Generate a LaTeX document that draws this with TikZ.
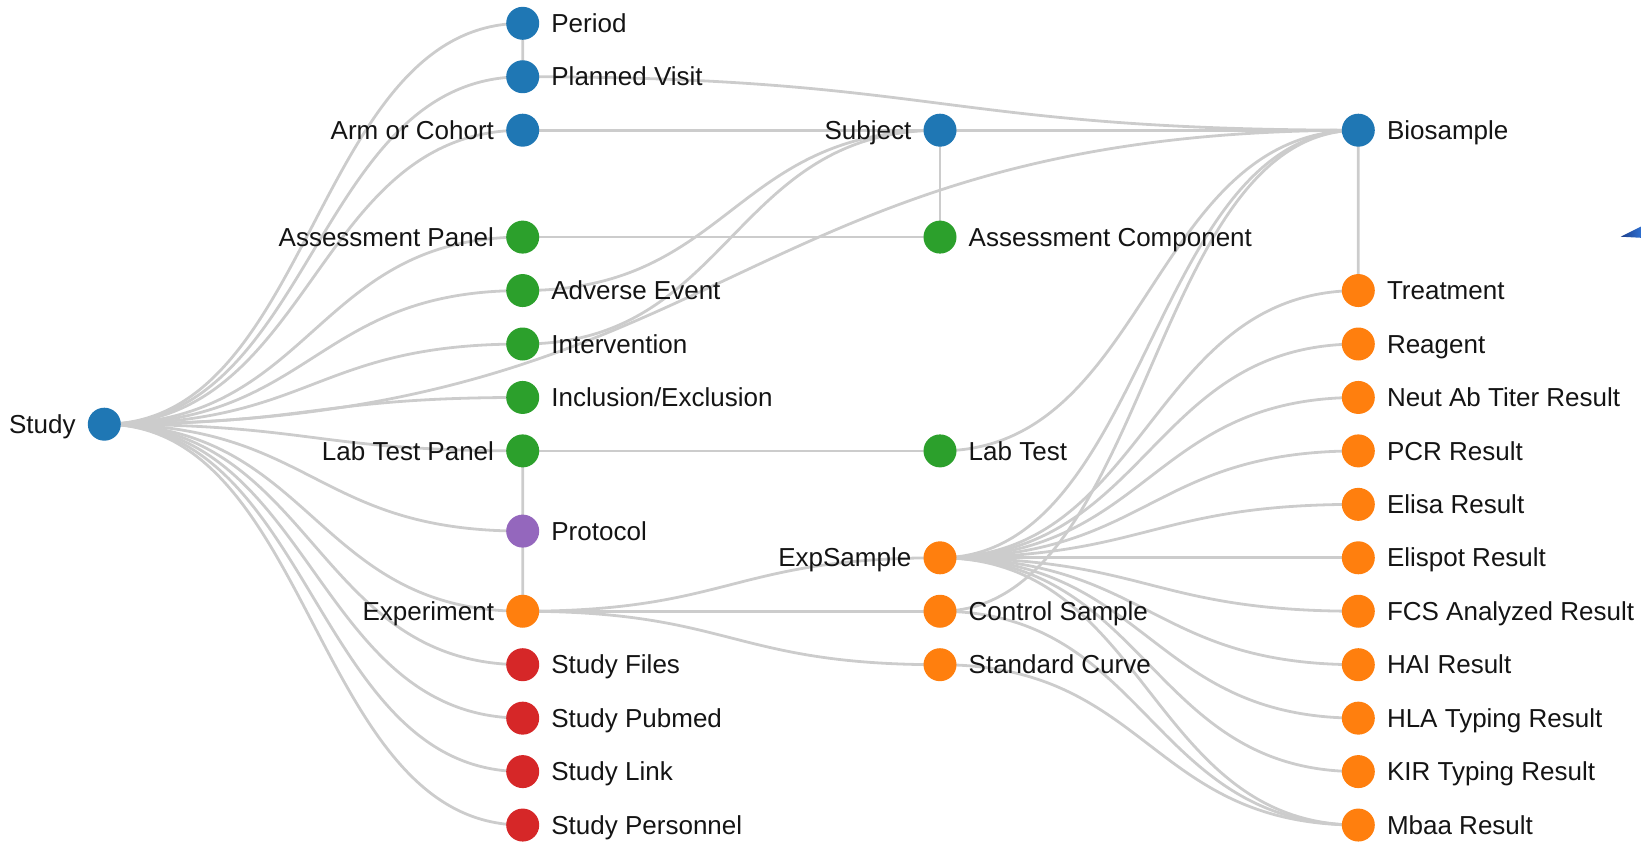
\documentclass[tikz,border=0pt]{standalone}
\usepackage{fontspec}
\setmainfont{Liberation Sans}
\usetikzlibrary{calc}
\pgfdeclarelayer{bg}
\pgfsetlayers{bg,main}
\definecolor{cblue}{HTML}{1F77B4}
\definecolor{corange}{HTML}{FF7F0E}
\definecolor{cgreen}{HTML}{2CA02C}
\definecolor{cred}{HTML}{D62728}
\definecolor{cpurple}{HTML}{9467BD}
\definecolor{edgegray}{HTML}{CCCCCC}
\definecolor{txtc}{HTML}{141414}
\definecolor{wedgeA}{HTML}{1C3F8C}
\definecolor{wedgeB}{HTML}{2E6FD0}
\tikzset{
  dot/.style={circle, inner sep=0pt, minimum size=33pt, draw=none},
  lblR/.style={anchor=base west, inner sep=0pt, text=txtc, font=\fontsize{26}{30}\selectfont},
  lblL/.style={anchor=base east, inner sep=0pt, text=txtc, font=\fontsize{26}{30}\selectfont},
  edge/.style={draw=edgegray, line width=2.8pt}
}
% node with label on the right / left
\newcommand\nodeR[5]{%
  \node[dot, fill=#4] (#1) at (#2,#3) {};
  \node[lblR] (#1T) at ($(#1)+(28.5,9.1)$) {#5};}
\newcommand\nodeL[5]{%
  \node[dot, fill=#4] (#1) at (#2,#3) {};
  \node[lblL] (#1T) at ($(#1)+(-28.5,9.1)$) {#5};}
% horizontal d3-style link between two named nodes
\newcommand\conn[2]{%
  \draw[edge] let \p1=(#1.center), \p2=(#2.center) in
    (#1.center) .. controls ({0.5*\x1+0.5*\x2},\y1) and ({0.5*\x1+0.5*\x2},\y2) .. (#2.center);}
\begin{document}
\begin{tikzpicture}[x=1pt, y=-1pt]
\useasboundingbox (0,0) rectangle (1641,842);
% column 1
\nodeL{study}{104.3}{424.2}{cblue}{Study}
% column 2
\nodeR{period}{522.7}{23.3}{cblue}{Period}
\nodeR{planned}{522.7}{76.75}{cblue}{Planned Visit}
\nodeL{arm}{522.7}{130.2}{cblue}{Arm or Cohort}
\nodeL{asspanel}{522.7}{237.1}{cgreen}{Assessment Panel}
\nodeR{adverse}{522.7}{290.55}{cgreen}{Adverse Event}
\nodeR{interv}{522.7}{344.0}{cgreen}{Intervention}
\nodeR{inclusion}{522.7}{397.45}{cgreen}{Inclusion/Exclusion}
\nodeL{labpanel}{522.7}{450.9}{cgreen}{Lab Test Panel}
\nodeR{protocol}{522.7}{531.1}{cpurple}{Protocol}
\nodeL{experiment}{522.7}{611.25}{corange}{Experiment}
\nodeR{files}{522.7}{664.7}{cred}{Study Files}
\nodeR{pubmed}{522.7}{718.15}{cred}{Study Pubmed}
\nodeR{slink}{522.7}{771.6}{cred}{Study Link}
\nodeR{personnel}{522.7}{825.05}{cred}{Study Personnel}
% column 3
\nodeL{subject}{940}{130.2}{cblue}{Subject}
\nodeR{asscomp}{940}{237.1}{cgreen}{Assessment Component}
\nodeR{labtest}{940}{450.9}{cgreen}{Lab Test}
\nodeL{expsample}{940}{557.8}{corange}{ExpSample}
\nodeR{control}{940}{611.25}{corange}{Control Sample}
\nodeR{standard}{940}{664.7}{corange}{Standard Curve}
% column 4
\nodeR{biosample}{1358.3}{130.2}{cblue}{Biosample}
\nodeR{treatment}{1358.3}{290.55}{corange}{Treatment}
\nodeR{reagent}{1358.3}{344.0}{corange}{Reagent}
\nodeR{neutab}{1358.3}{397.45}{corange}{Neut Ab Titer Result}
\nodeR{pcr}{1358.3}{450.9}{corange}{PCR Result}
\nodeR{elisa}{1358.3}{504.35}{corange}{Elisa Result}
\nodeR{elispot}{1358.3}{557.8}{corange}{Elispot Result}
\nodeR{fcs}{1358.3}{611.25}{corange}{FCS Analyzed Result}
\nodeR{hai}{1358.3}{664.7}{corange}{HAI Result}
\nodeR{hla}{1358.3}{718.15}{corange}{HLA Typing Result}
\nodeR{kir}{1358.3}{771.6}{corange}{KIR Typing Result}
\nodeR{mbaa}{1358.3}{825.05}{corange}{Mbaa Result}
% edges
\begin{pgfonlayer}{bg}
\foreach \t in {period,planned,arm,asspanel,adverse,interv,inclusion,labpanel,protocol,experiment,files,pubmed,slink,personnel,biosample}
  {\conn{study}{\t}}
\conn{period}{planned}
\conn{planned}{biosample}
\conn{arm}{subject}
\conn{subject}{biosample}
\conn{subject}{asscomp}
\conn{asspanel}{asscomp}
\conn{adverse}{subject}
\conn{interv}{subject}
\conn{labpanel}{protocol}
\conn{protocol}{experiment}
\conn{labpanel}{labtest}
\conn{labtest}{biosample}
\conn{experiment}{expsample}
\conn{experiment}{control}
\conn{experiment}{standard}
\foreach \t in {biosample,treatment,reagent,neutab,pcr,elisa,elispot,fcs,hai,hla,kir,mbaa}
  {\conn{expsample}{\t}}
\conn{control}{biosample}
\conn{control}{mbaa}
\conn{standard}{mbaa}
\conn{biosample}{treatment}
\end{pgfonlayer}
% stray blue wedge at the right edge
\shade[left color=wedgeA, right color=wedgeB] (1620.7,236.7) -- (1641,226.5) -- (1641,237.8) -- cycle;
\end{tikzpicture}
\end{document}
